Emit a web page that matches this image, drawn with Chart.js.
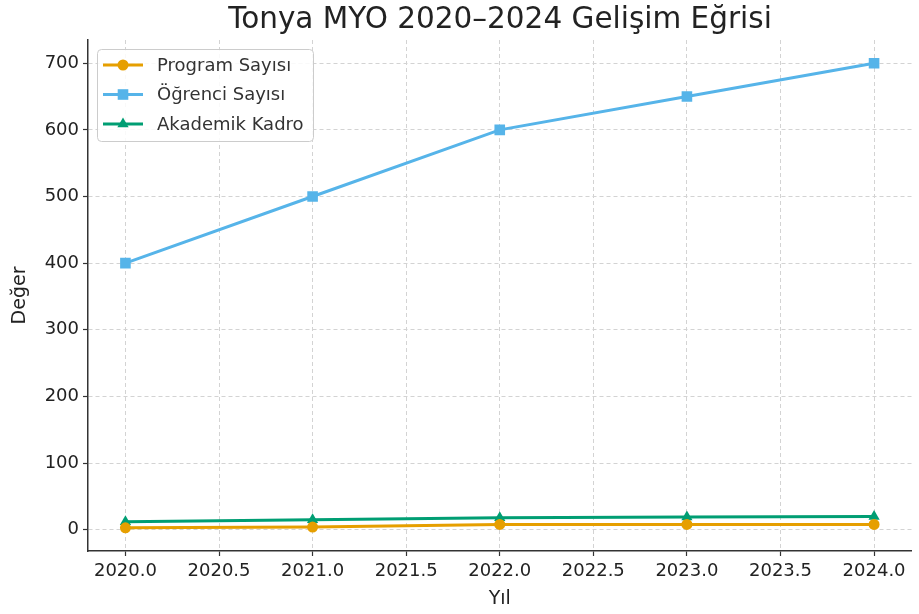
<!DOCTYPE html>
<html>
<head>
<meta charset="utf-8">
<script src="https://cdn.jsdelivr.net/npm/chart.js@4.4.0/dist/chart.umd.min.js"></script>
<style>
  html, body { margin: 0; padding: 0; background: #fff; }
  #wrap { width: 919px; height: 614px; }
</style>
</head>
<body>
<div id="wrap"><canvas id="chart" width="919" height="614"></canvas></div>
<script>
const years = [2020, 2021, 2022, 2023, 2024];
const programSayisi = [3, 4, 8, 8, 8];
const ogrenciSayisi = [400, 500, 600, 650, 700];
const akademikKadro = [12, 15, 18, 19, 20];
const yTicks = [0, 100, 200, 300, 400, 500, 600, 700];

const chartTitle = "Tonya MYO 2020–2024 Gelişim Eğrisi";
const fontFamily = "'DejaVu Sans', sans-serif";

function toPoints(values) {
    return years.map((x, i) => ({ x: x, y: values[i] }));
}

const markerRadius = { circle: 5.5, rect: 7.5, triangle: 6.5 };

function makeSeries(label, values, color, shape) {
    return {
        label: label,
        data: toPoints(values),
        borderColor: color,
        backgroundColor: color,
        borderWidth: 3,
        pointStyle: shape,
        pointRadius: markerRadius[shape],
        pointBorderWidth: 0,
        tension: 0
    };
}

// title + legend drawn by hand, legend sits inside the plot like matplotlib
const overlayPlugin = {
    id: "overlay",
    afterDraw(chart) {
        const ctx = chart.ctx;
        ctx.save();
        ctx.fillStyle = "#222";
        ctx.font = "29.5px " + fontFamily;
        ctx.textAlign = "center";
        ctx.textBaseline = "middle";
        ctx.fillText(chartTitle, 500, 20);

        const bx = 97, by = 49, bw = 216, bh = 92;
        ctx.fillStyle = "rgba(255,255,255,0.85)";
        ctx.strokeStyle = "#ccc";
        ctx.lineWidth = 1;
        ctx.beginPath();
        ctx.roundRect(bx + 0.5, by + 0.5, bw, bh, 4);
        ctx.fill();
        ctx.stroke();

        ctx.font = "18px " + fontFamily;
        ctx.textAlign = "left";
        chart.data.datasets.forEach((ds, i) => {
            const y = by + 16 + i * 29.5;
            ctx.strokeStyle = ds.borderColor;
            ctx.lineWidth = 3;
            ctx.beginPath();
            ctx.moveTo(bx + 6, y);
            ctx.lineTo(bx + 46, y);
            ctx.stroke();
            ctx.fillStyle = ds.backgroundColor;
            Chart.helpers.drawPoint(ctx, { pointStyle: ds.pointStyle, radius: ds.pointRadius, borderWidth: 0 }, bx + 26, y);
            ctx.fillStyle = "#333";
            ctx.fillText(ds.label, bx + 60, y + 1);
        });
        ctx.restore();
    }
};

const gridOpts = {
    color: "#d3d3d3",
    tickColor: "#333",
    tickBorderDash: [],
    tickLength: 5,
    tickWidth: 1.2
};

new Chart(document.getElementById("chart"), {
    type: "line",
    data: {
        datasets: [
            makeSeries("Program Sayısı", programSayisi, "#E69F00", "circle"),
            makeSeries("Öğrenci Sayısı", ogrenciSayisi, "#56B4E9", "rect"),
            makeSeries("Akademik Kadro", akademikKadro, "#009E73", "triangle")
        ]
    },
    options: {
        responsive: false,
        animation: false,
        layout: { padding: { top: 40, right: 4, left: 0, bottom: 0 } },
        plugins: {
            legend: { display: false },
            title: { display: false },
            tooltip: { enabled: false }
        },
        scales: {
            x: {
                type: "linear",
                min: 2019.8,
                max: 2024.2,
                afterBuildTicks: scale => {
                    const t = [];
                    for (let v = 2020; v <= 2024; v += 0.5) t.push({ value: v });
                    scale.ticks = t;
                },
                afterFit: scale => { scale.height = 63; },
                ticks: {
                    callback: v => Number(v).toFixed(1),
                    color: "#222",
                    font: { family: fontFamily, size: 18 },
                    maxRotation: 0,
                    autoSkip: false,
                    padding: 5
                },
                grid: gridOpts,
                border: { display: true, color: "#333", width: 1.5, dash: [4, 3] },
                title: {
                    display: true,
                    text: "Yıl",
                    color: "#222",
                    font: { family: fontFamily, size: 19 },
                    padding: { top: 0 }
                }
            },
            y: {
                min: -31.85,
                max: 734.85,
                afterBuildTicks: scale => {
                    scale.ticks = yTicks.map(v => ({ value: v }));
                },
                afterFit: scale => { scale.width = 88; },
                ticks: {
                    color: "#222",
                    font: { family: fontFamily, size: 18 },
                    padding: 4
                },
                grid: gridOpts,
                border: { display: true, color: "#333", width: 1.5, dash: [4, 3] },
                title: {
                    display: true,
                    text: "Değer",
                    color: "#222",
                    font: { family: fontFamily, size: 19 },
                    padding: { top: 9, bottom: 0 }
                }
            }
        }
    },
    plugins: [overlayPlugin]
});
</script>
</body>
</html>
